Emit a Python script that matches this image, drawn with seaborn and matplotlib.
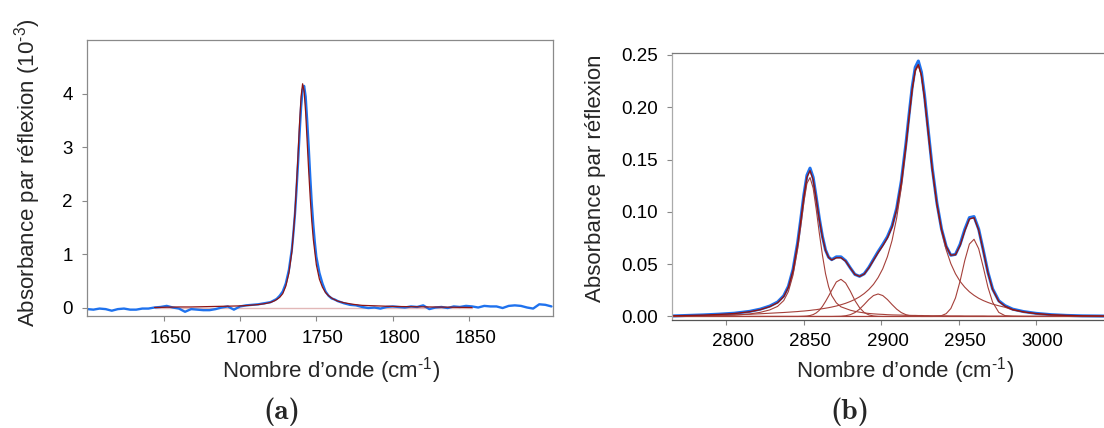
import seaborn as sns
import matplotlib.pyplot as plt
from matplotlib.ticker import FormatStrFormatter
from matplotlib.transforms import ScaledTranslation

# (a) carbonyl band, absorbance in 10^-3 units
wn_a = [1600, 1604, 1608, 1612, 1616, 1620, 1624, 1628, 1632, 1636,
        1640, 1644, 1648, 1652, 1656, 1660, 1664, 1668, 1672, 1676,
        1680, 1684, 1688, 1692, 1696, 1700, 1704, 1708, 1712, 1716,
        1720, 1722, 1724, 1726, 1728, 1730, 1732, 1734, 1735, 1736,
        1737, 1738, 1739, 1740, 1741, 1742, 1743, 1744, 1745, 1746,
        1747, 1748, 1749, 1750, 1752, 1754, 1756, 1758, 1760, 1762,
        1764, 1768, 1772, 1776, 1780, 1784, 1788, 1792, 1796, 1800,
        1804, 1808, 1812, 1816, 1820, 1824, 1828, 1832, 1836, 1840,
        1844, 1848, 1852, 1856, 1860, 1864, 1868, 1872, 1876, 1880,
        1884, 1888, 1892, 1896, 1900, 1904]
abs_a = [-0.03, -0.04, -0.02, -0.03, -0.06, -0.03, -0.02, -0.04, -0.04, -0.02,
         -0.02, 0.00, 0.01, 0.03, 0.00, -0.02, -0.08, -0.03, -0.04, -0.05,
         -0.05, -0.03, 0.00, 0.02, -0.04, 0.02, 0.04, 0.05, 0.06, 0.08,
         0.10, 0.13, 0.16, 0.22, 0.30, 0.45, 0.70, 1.10, 1.40, 1.75,
         2.20, 2.70, 3.25, 3.75, 4.08, 4.15, 3.95, 3.50, 3.00, 2.45,
         1.95, 1.55, 1.22, 0.95, 0.65, 0.45, 0.30, 0.22, 0.17, 0.15,
         0.12, 0.08, 0.05, 0.04, 0.01, -0.01, 0.00, -0.02, 0.01, 0.02,
         0.01, 0.00, 0.02, 0.01, 0.04, -0.03, 0.00, 0.01, -0.01, 0.02,
         0.01, 0.03, 0.02, 0.00, 0.03, 0.02, 0.02, -0.01, 0.03, 0.04,
         0.03, 0.00, -0.02, 0.06, 0.05, 0.02]

wn_fit_a = [1644, 1652, 1660, 1668, 1676, 1684, 1692, 1700, 1706, 1712,
            1716, 1720, 1723, 1726, 1728, 1730, 1732, 1734, 1736, 1737,
            1738, 1739, 1740, 1741, 1742, 1743, 1744, 1745, 1746, 1747,
            1748, 1750, 1752, 1754, 1756, 1758, 1761, 1764, 1768, 1774,
            1780, 1790, 1800, 1812, 1825, 1840, 1852]
fit_a = [0.00, 0.005, 0.01, 0.01, 0.015, 0.02, 0.025, 0.03, 0.04, 0.055,
         0.07, 0.095, 0.13, 0.19, 0.26, 0.40, 0.64, 1.05, 1.78, 2.30,
         2.85, 3.45, 3.95, 4.19, 4.05, 3.65, 3.10, 2.55, 2.05, 1.62,
         1.28, 0.80, 0.53, 0.38, 0.28, 0.22, 0.16, 0.12, 0.09, 0.06,
         0.04, 0.03, 0.02, 0.015, 0.01, 0.005, 0.00]
wn_base_a = [1644, 1852]
base_a = [0.0, 0.0]

# (b) C-H stretching region
wn_b = [2765, 2775, 2785, 2795, 2805, 2815, 2822, 2828, 2833, 2837,
        2840, 2843, 2846, 2848, 2850, 2852, 2854, 2856, 2858, 2860,
        2862, 2864, 2866, 2868, 2871, 2874, 2877, 2880, 2883, 2886,
        2889, 2892, 2895, 2898, 2901, 2904, 2907, 2910, 2913, 2916,
        2918, 2920, 2922, 2924, 2926, 2928, 2930, 2933, 2936, 2939,
        2942, 2945, 2948, 2951, 2954, 2957, 2960, 2963, 2966, 2969,
        2972, 2976, 2980, 2985, 2992, 3000, 3010, 3020, 3030, 3044]
abs_b = [0.0005, 0.0010, 0.0015, 0.0022, 0.0031, 0.0049, 0.0071, 0.0100, 0.0138, 0.0198,
         0.0288, 0.0450, 0.0708, 0.0930, 0.1162, 0.1350, 0.1418, 0.1330, 0.1140, 0.0938,
         0.0766, 0.0636, 0.0567, 0.0543, 0.0570, 0.0570, 0.0533, 0.0465, 0.0402, 0.0384,
         0.0408, 0.0469, 0.0545, 0.0620, 0.0688, 0.0762, 0.0866, 0.1035, 0.1295, 0.1655,
         0.1930, 0.2192, 0.2382, 0.2442, 0.2336, 0.2114, 0.1835, 0.1420, 0.1085, 0.0836,
         0.0670, 0.0585, 0.0594, 0.0690, 0.0832, 0.0945, 0.0955, 0.0835, 0.0632, 0.0422,
         0.0264, 0.0150, 0.0104, 0.0070, 0.0047, 0.0030, 0.0017, 0.0010, 0.0006, 0.0004]
fit_b = [0.0006, 0.0009, 0.0013, 0.0019, 0.0028, 0.0045, 0.0066, 0.0094, 0.0131, 0.0190,
         0.0279, 0.0439, 0.0694, 0.0915, 0.1146, 0.1332, 0.1395, 0.1308, 0.1124, 0.0925,
         0.0758, 0.0632, 0.0564, 0.0540, 0.0561, 0.0561, 0.0529, 0.0463, 0.0402, 0.0383,
         0.0405, 0.0464, 0.0537, 0.0610, 0.0676, 0.0750, 0.0855, 0.1025, 0.1283, 0.1639,
         0.1912, 0.2171, 0.2356, 0.2408, 0.2308, 0.2090, 0.1815, 0.1407, 0.1076, 0.0832,
         0.0670, 0.0586, 0.0590, 0.0679, 0.0818, 0.0932, 0.0944, 0.0826, 0.0625, 0.0416,
         0.0258, 0.0144, 0.0099, 0.0066, 0.0044, 0.0028, 0.0016, 0.0010, 0.0006, 0.0004]
band_2854 = [0.0002, 0.0003, 0.0005, 0.0008, 0.0013, 0.0024, 0.0040, 0.0063, 0.0096, 0.0152,
             0.0238, 0.0395, 0.0647, 0.0864, 0.1092, 0.1273, 0.1328, 0.1228, 0.1025, 0.0796,
             0.0588, 0.0410, 0.0285, 0.0200, 0.0130, 0.0092, 0.0076, 0.0060, 0.0049, 0.0041,
             0.0034, 0.0029, 0.0025, 0.0022, 0.0020, 0.0017, 0.0015, 0.0014, 0.0013, 0.0011,
             0.0011, 0.0010, 0.0010, 0.0009, 0.0009, 0.0008, 0.0008, 0.0007, 0.0007, 0.0006,
             0.0006, 0.0005, 0.0005, 0.0005, 0.0004, 0.0004, 0.0004, 0.0004, 0.0004, 0.0003,
             0.0003, 0.0003, 0.0003, 0.0003, 0.0002, 0.0002, 0.0002, 0.0002, 0.0001, 0.0001]
band_2874 = [0, 0, 0, 0, 0, 0, 0, 0, 0, 0,
             0, 0, 0, 0.0001, 0.0002, 0.0004, 0.0009, 0.0018, 0.0034, 0.0059,
             0.0096, 0.0143, 0.0195, 0.0250, 0.0330, 0.0355, 0.0320, 0.0243, 0.0153, 0.0084,
             0.0038, 0.0015, 0.0005, 0.0001, 0, 0, 0, 0, 0, 0,
             0, 0, 0, 0, 0, 0, 0, 0, 0, 0,
             0, 0, 0, 0, 0, 0, 0, 0, 0, 0,
             0, 0, 0, 0, 0, 0, 0, 0, 0, 0]
band_2898 = [0, 0, 0, 0, 0, 0, 0, 0, 0, 0,
             0, 0, 0, 0, 0, 0, 0, 0, 0, 0,
             0, 0, 0, 0, 0.0001, 0.0002, 0.0007, 0.0017, 0.0037, 0.0070,
             0.0114, 0.0162, 0.0200, 0.0215, 0.0200, 0.0162, 0.0114, 0.0070, 0.0037, 0.0017,
             0.0009, 0.0005, 0.0002, 0.0001, 0, 0, 0, 0, 0, 0,
             0, 0, 0, 0, 0, 0, 0, 0, 0, 0,
             0, 0, 0, 0, 0, 0, 0, 0, 0, 0]
band_2924 = [0.0004, 0.0006, 0.0008, 0.0011, 0.0015, 0.0021, 0.0026, 0.0031, 0.0035, 0.0038,
             0.0041, 0.0044, 0.0047, 0.0050, 0.0052, 0.0055, 0.0058, 0.0062, 0.0065, 0.0070,
             0.0074, 0.0079, 0.0084, 0.0090, 0.0100, 0.0112, 0.0126, 0.0143, 0.0163, 0.0188,
             0.0219, 0.0258, 0.0307, 0.0372, 0.0456, 0.0571, 0.0726, 0.0941, 0.1233, 0.1611,
             0.1892, 0.2156, 0.2344, 0.2398, 0.2299, 0.2082, 0.1807, 0.1400, 0.1067, 0.0818,
             0.0637, 0.0505, 0.0408, 0.0335, 0.0280, 0.0236, 0.0202, 0.0174, 0.0152, 0.0134,
             0.0118, 0.0102, 0.0088, 0.0062, 0.0042, 0.0026, 0.0014, 0.0008, 0.0005, 0.0003]
band_2960 = [0, 0, 0, 0, 0, 0, 0, 0, 0, 0,
             0, 0, 0, 0, 0, 0, 0, 0, 0, 0,
             0, 0, 0, 0, 0, 0, 0, 0, 0, 0,
             0, 0, 0, 0, 0, 0, 0, 0, 0, 0,
             0, 0, 0, 0, 0, 0, 0, 0, 0.0002, 0.0008,
             0.0027, 0.0076, 0.0177, 0.0339, 0.0534, 0.0692, 0.0738, 0.0648, 0.0469, 0.0279,
             0.0137, 0.0039, 0.0008, 0.0001, 0, 0, 0, 0, 0, 0]
bands_b = [band_2854, band_2874, band_2898, band_2924, band_2960]
wn_base_b = [2765, 3044]
base_b = [0.0, 0.0]

BLUE = '#1f72ee'
RED = '#8e1414'
BAND = '#a5403a'
BASE = '#e2b8b8'

sns.set_style('ticks')
plt.rcParams['font.family'] = ['Liberation Sans', 'DejaVu Sans']
plt.rcParams['mathtext.fontset'] = 'custom'
plt.rcParams['mathtext.rm'] = 'Liberation Sans'
plt.rcParams['mathtext.it'] = 'Liberation Sans:italic'
plt.rcParams['mathtext.bf'] = 'Liberation Sans:bold'

fig = plt.figure(figsize=(11.04, 4.28), dpi=100)
ax1 = fig.add_axes([0.0791, 0.2617, 0.4218, 0.6449])
ax2 = fig.add_axes([0.6090, 0.2535, 0.3910, 0.6220])


def line(ax, x, y, color, lw):
    sns.lineplot(x=x, y=y, ax=ax, color=color, linewidth=lw,
                 estimator=None, sort=False, legend=False)


# panel (a)
line(ax1, wn_base_a, base_a, BASE, 1.0)
line(ax1, wn_a, abs_a, BLUE, 1.7)
line(ax1, wn_fit_a, fit_a, RED, 0.9)
ax1.set_xlim(1600, 1905)
ax1.set_ylim(-0.159, 5.01)
ax1.set_xticks([1650, 1700, 1750, 1800, 1850])
ax1.set_yticks([0, 1, 2, 3, 4])
for side in ['left', 'right', 'top', 'bottom']:
    ax1.spines[side].set_visible(True)
    ax1.spines[side].set_color('#8a8a8a')
    ax1.spines[side].set_linewidth(0.9)

# panel (b)
line(ax2, wn_base_b, base_b, BASE, 1.0)
line(ax2, wn_b, abs_b, BLUE, 2.2)
for band in bands_b:
    line(ax2, wn_b, band, BAND, 0.8)
line(ax2, wn_b, fit_b, RED, 1.0)
ax2.set_xlim(2765, 3044)
ax2.set_ylim(-0.0029, 0.2516)
ax2.set_xticks([2800, 2850, 2900, 2950, 3000])
ax2.set_yticks([0.0, 0.05, 0.10, 0.15, 0.20, 0.25])
ax2.yaxis.set_major_formatter(FormatStrFormatter('%.2f'))
ax2.spines['right'].set_visible(False)
ax2.spines['top'].set_visible(True)
ax2.spines['top'].set_color('#7a7a7a')
ax2.spines['left'].set_color('#aaaaaa')
ax2.spines['bottom'].set_color('#555555')
for side in ['left', 'top', 'bottom']:
    ax2.spines[side].set_linewidth(0.9)

shift = ScaledTranslation(6.5 / 100, 0, fig.dpi_scale_trans)
for ax in (ax1, ax2):
    ax.tick_params(direction='out', length=3.5, width=0.8, colors='#888888',
                   labelcolor='black', labelsize=13.5)
    ax.tick_params(axis='x', pad=6.5)
    ax.tick_params(axis='y', pad=7)
    ax.xaxis.set_ticks_position('bottom')
    ax.yaxis.set_ticks_position('left')
    for lab in ax.get_xticklabels():
        lab.set_transform(lab.get_transform() + shift)

xlab = 'Nombre d\u2019onde (cm$^{\\text{-1}}$)'
ax1.set_xlabel(xlab, fontsize=16)
ax1.set_ylabel('Absorbance par r\u00e9flexion (10$^{\\text{-3}}$)', fontsize=16)
ax1.xaxis.set_label_coords(0.523, -0.14)
ax1.yaxis.set_label_coords(-0.095, 0.52)

ax2.set_xlabel(xlab, fontsize=16)
ax2.set_ylabel('Absorbance par r\u00e9flexion', fontsize=16)
ax2.xaxis.set_label_coords(0.539, -0.132)
ax2.yaxis.set_label_coords(-0.1536, 0.53)

fig.text(281.7 / 1104, 0.02, '(a)', family='cmb10', fontsize=21,
         ha='center', va='baseline')
fig.text(850 / 1104, 0.02, '(b)', family='cmb10', fontsize=21,
         ha='center', va='baseline')

fig.savefig('out.png', dpi=100, facecolor='white')
